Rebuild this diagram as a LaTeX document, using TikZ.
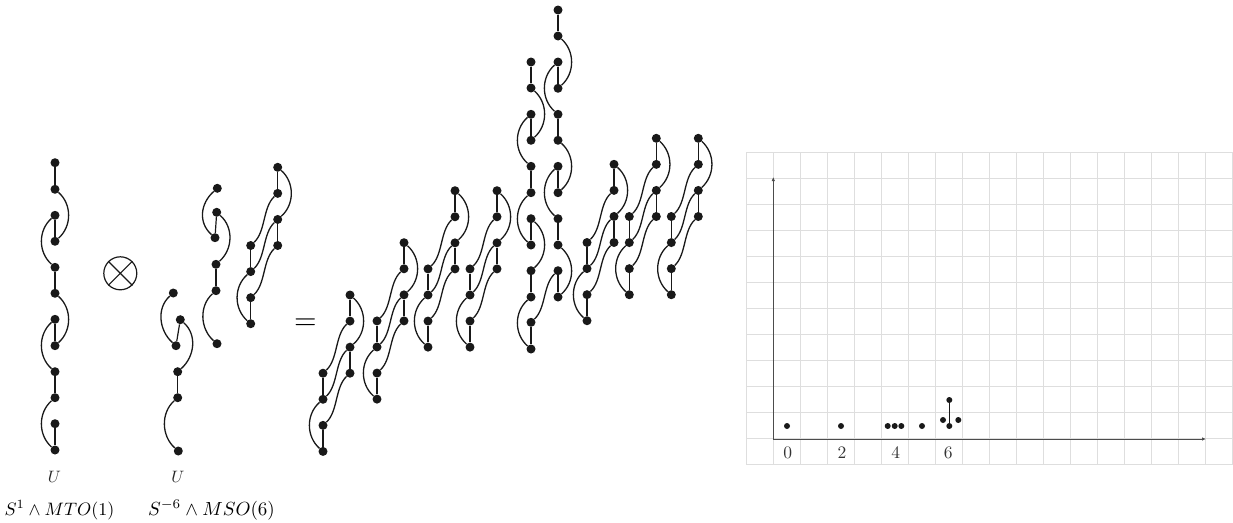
\documentclass[tikz,border=0pt]{standalone}
\usetikzlibrary{arrows.meta}
\tikzset{
  dotn/.style={circle,fill=black!90,inner sep=0pt,minimum size=9pt},
  sdot/.style={circle,fill=black!90,inner sep=0pt,minimum size=6pt},
  lnk/.style={line width=1.3pt,black!90},
  vlnk/.style={line width=1.2pt,black!90},
  gridl/.style={line width=1pt,black!13},
  axisl/.style={line width=0.9pt,black!70},
  lab/.style={inner sep=0pt,anchor=base},
  ulab/.style={scale=1.65,inner sep=0pt,black!85},
  tick/.style={scale=1.75,inner sep=0pt,black!80}
}
\newcommand\cnR[2]{\draw[lnk] (#1) .. controls +(17,15) and +(17,-15) .. (#2);}
\newcommand\cnL[2]{\draw[lnk] (#1) .. controls +(-17,15) and +(-17,-15) .. (#2);}
\newcommand\cnS[2]{\draw[lnk] (#1) .. controls +(-15,14) and +(15,-14) .. (#2);}
\newcommand\cnV[2]{\draw[vlnk] (#1) -- (#2);}
% eight-dot block: name, x of right column, y of top dot
\newcommand\eblock[3]{%
  \foreach \i in {0,1,2,3} {
    \node[dotn] (#1r\i) at (#2,{#3+26.07*\i}) {};
    \node[dotn] (#1l\i) at ({#2-27},{#3+26.07*(\i+3)}) {};
  }
  \cnV{#1r0}{#1r1}\cnR{#1r0}{#1r2}\cnS{#1r1}{#1l0}\cnV{#1r2}{#1r3}
  \cnS{#1r2}{#1l1}\cnS{#1r3}{#1l2}\cnV{#1l0}{#1l1}\cnL{#1l1}{#1l3}\cnV{#1l2}{#1l3}
}
% six-dot strand
\newcommand\sblock[7]{%
  \node[dotn] (#1a) at #2 {};
  \node[dotn] (#1b) at #3 {};
  \node[dotn] (#1c) at #4 {};
  \node[dotn] (#1d) at #5 {};
  \node[dotn] (#1e) at #6 {};
  \node[dotn] (#1f) at #7 {};
  \cnL{#1a}{#1c}\cnV{#1b}{#1c}\cnR{#1b}{#1d}\cnV{#1d}{#1e}\cnL{#1e}{#1f}
}
\begin{document}
\begin{tikzpicture}[x=1pt,y=-1pt]
\useasboundingbox (0,0) rectangle (1233,522);
% left strand
\foreach \i/\y in {0/162.7,1/189.3,2/215.3,3/241.3,4/267.3,5/293.3,6/319.3,7/345.7,8/371.7,9/397.7,10/423.7,11/450}
  \node[dotn] (m\i) at (55,\y) {};
\cnV{m0}{m1}\cnR{m1}{m3}\cnV{m2}{m3}\cnL{m2}{m4}\cnV{m4}{m5}\cnR{m5}{m7}
\cnV{m6}{m7}\cnL{m6}{m8}\cnV{m8}{m9}\cnL{m9}{m11}\cnV{m10}{m11}
% tensor
\node[circle,draw=black!90,line width=1.2pt,inner sep=0pt,minimum size=33pt] (ot) at (120.3,273.3) {};
\draw[line width=1.2pt,black!90] (ot.45) -- (ot.225) (ot.135) -- (ot.-45);
% MSO(6)
\sblock{p}{(173.3,293)}{(180.3,319.7)}{(176,345.7)}{(177.7,371.7)}{(177.7,397.7)}{(178.3,451)}
\sblock{q}{(217.3,188.3)}{(216.7,212.3)}{(215,237.7)}{(216,264.3)}{(216,290.7)}{(217,343.7)}
\eblock{b}{277.7}{167.3}
% equals
\node[scale=2.9,inner sep=0pt] (eq) at (305.5,324.5) {$=$};
% product blocks
\eblock{c}{350}{295}
\eblock{d}{404}{242.7}
\eblock{e}{455}{190.7}
\eblock{f}{497}{190.7}
\eblock{g}{614}{164.3}
\eblock{h}{656.3}{138.3}
\eblock{j}{698.3}{138.3}
% tall columns
\foreach \i/\y in {0/10,1/36,2/62,3/88.3,4/114.3,5/140.3,6/166.3,7/192.7,8/218.7,9/245,10/270.7,11/297}
  \node[dotn] (r\i) at (558,\y) {};
\foreach \i/\y in {0/62,1/88,2/114.3,3/140.3,4/166.3,5/192.7,6/218.7,7/245,8/270.7,9/297,10/322.3,11/349}
  \node[dotn] (s\i) at (531,\y) {};
\cnV{r0}{r1}\cnR{r1}{r3}\cnV{r2}{r3}\cnL{r2}{r4}\cnV{r4}{r5}\cnR{r5}{r7}
\cnV{r6}{r7}\cnL{r6}{r8}\cnV{r8}{r9}\cnR{r9}{r11}\cnV{r10}{r11}
\cnV{s0}{s1}\cnR{s1}{s3}\cnV{s2}{s3}\cnL{s2}{s4}\cnV{s4}{s5}\cnL{s5}{s7}
\cnV{s6}{s7}\cnR{s6}{s8}\cnV{s8}{s9}\cnL{s9}{s11}\cnV{s10}{s11}
\cnS{r10}{s10}
% labels
\node[ulab] (u1) at (54.3,476.5) {$U$};
\node[ulab] (u2) at (178,476.5) {$U$};
\node[lab,scale=1.8] (l1) at (59.5,515) {$S^1\wedge MTO(1)$};
\node[lab,scale=1.9] (l2) at (211.5,515) {$S^{-6}\wedge MSO(6)$};
% grid
\foreach \i in {0,...,18}
  \draw[gridl] ({746.3+27.03*\i},152) -- ({746.3+27.03*\i},465);
\foreach \j in {0,...,12}
  \draw[gridl] (746.3,{152+26.08*\j}) -- (1232.8,{152+26.08*\j});
% axes
\coordinate (o) at (773.3,439);
\coordinate (xe) at (1206,439);
\coordinate (ye) at (773.3,177);
\draw[axisl,-{Latex[length=4pt,width=3.5pt]}] (o) -- (xe);
\draw[axisl,-{Latex[length=4pt,width=3.5pt]}] (o) -- (ye);
% spectral dots
\foreach \n/\x/\y in {a/787/426,b/841/426,c/887.7/426,d/894.7/426,e/901.3/426,f/922/426,g/943/420,h/949.3/400,i/949.3/426,k/958.3/420}
  \node[sdot] (z\n) at (\x,\y) {};
\draw[vlnk] (zh) -- (zi);
\node[tick] (t0) at (787.7,452.7) {0};
\node[tick] (t2) at (842,452.7) {2};
\node[tick] (t4) at (895.7,452.7) {4};
\node[tick] (t6) at (948.3,452.7) {6};
\end{tikzpicture}
\end{document}
